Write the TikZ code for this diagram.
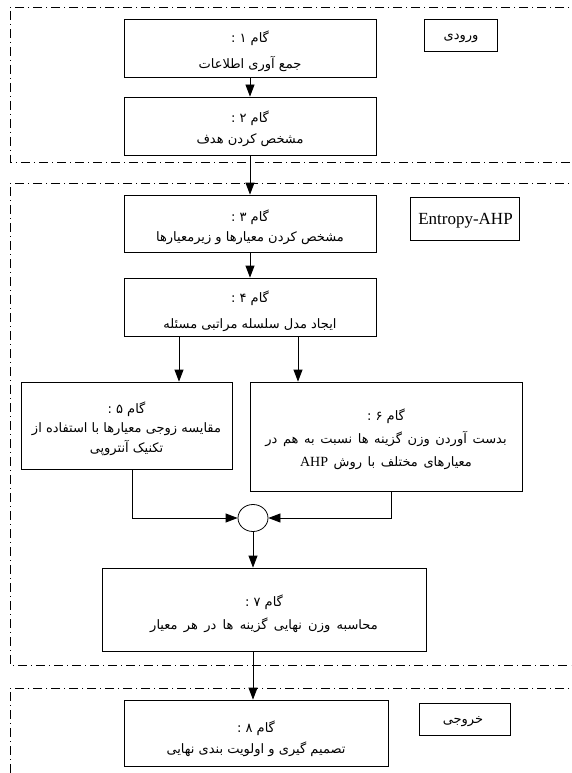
\documentclass[tikz,border=0pt]{standalone}
\usepackage{fontspec}
\usetikzlibrary{arrows.meta,shapes.geometric}
\TeXXeTstate=1
\newfontfamily\arfont[Script=Arabic]{DejaVu Sans}
\newfontfamily\latfont{Liberation Serif}
\begin{document}
\begin{tikzpicture}[x=1pt,y=-1pt,
  box/.style={draw,line width=0.8pt,inner sep=0pt},
  txt/.style={align=center,inner sep=0pt,font=\arfont\fontsize{13}{#1}\selectfont},
  frame/.style={line width=0.7pt,dash pattern=on 9pt off 4pt on 1pt off 4pt},
  arr/.style={line width=0.8pt,-{Triangle[length=12pt,width=9pt]}},
  ln/.style={line width=0.8pt}]
\useasboundingbox (0,0) rectangle (571,773);
\clip (0,0) rectangle (571,773);
% frames
\draw[frame] (600,7) -- (10,7) -- (10,162) -- (600,162);
\draw[frame] (600,183) -- (10,183) -- (10,665) -- (600,665);
\draw[frame] (600,688) -- (10,688) -- (10,800);
% boxes
\node[box,minimum width=252pt,minimum height=58pt] (b1) at (250,48) {};
\node[txt=26pt] (b1t) at (250,51) {\beginR گام ۱ :\endR\\\beginR جمع آوری اطلاعات\endR};
\node[box,minimum width=252pt,minimum height=58pt] (b2) at (250,126) {};
\node[txt=21pt] (b2t) at (250,128.5) {\beginR گام ۲ :\endR\\\beginR مشخص کردن هدف\endR};
\node[box,minimum width=252pt,minimum height=57pt] (b3) at (250,223.5) {};
\node[txt=20pt] (b3t) at (250,227.5) {\beginR گام ۳ :\endR\\\beginR مشخص کردن معیارها و زیرمعیارها\endR};
\node[box,minimum width=252pt,minimum height=58pt] (b4) at (250,307) {};
\node[txt=26pt] (b4t) at (250,311) {\beginR گام ۴ :\endR\\\beginR ایجاد مدل سلسله مراتبی مسئله\endR};
\node[box,minimum width=211pt,minimum height=87pt] (b5) at (126.5,425.5) {};
\node[txt=19.5pt] (b5t) at (126.5,428.5) {\beginR گام ۵ :\endR\\\beginR مقایسه زوجی معیارها با استفاده از\endR\\\beginR تکنیک آنتروپی\endR};
\node[box,minimum width=272pt,minimum height=109pt] (b6) at (386,436.5) {};
\node[txt=23pt] (b6t) at (386,439) {\beginR گام ۶ :\endR\\\spaceskip=5.6pt\beginR بدست آوردن وزن گزینه ها نسبت به هم در\endR\\\spaceskip=5.6pt\beginR معیارهای مختلف با روش \beginL{\latfont\fontsize{14}{14}\selectfont AHP}\endL\endR};
\node[draw,line width=0.8pt,ellipse,minimum width=30pt,minimum height=27pt,inner sep=0pt] (c) at (253,518) {};
\node[box,minimum width=324pt,minimum height=83pt] (b7) at (264,609.5) {};
\node[txt=23pt] (b7t) at (264,614) {\beginR گام ۷ :\endR\\\spaceskip=6.3pt\beginR محاسبه وزن نهایی گزینه ها در هر معیار\endR};
\node[box,minimum width=264pt,minimum height=66pt] (b8) at (256,733) {};
\node[txt=21pt] (b8t) at (256,738.5) {\beginR گام ۸ :\endR\\\beginR تصمیم گیری و اولویت بندی نهایی\endR};
% tags
\node[box,minimum width=73pt,minimum height=32pt] (tin) at (460.5,35) {};
\node[txt=14pt] (tint) at (461,38.5) {\beginR ورودی\endR};
\node[box,minimum width=109pt,minimum height=43pt] (tmid) at (464.5,218.5) {};
\node[inner sep=0pt,font=\latfont\fontsize{17}{18}\selectfont] (tmidt) at (465.5,221) {Entropy-AHP};
\node[box,minimum width=91pt,minimum height=32pt] (tout) at (464.5,719) {};
\node[txt=14pt] (toutt) at (463,722) {\beginR خروجی\endR};
% connectors
\draw[arr] (b1) -- (b2);
\draw[arr] (b2) -- (b3);
\draw[arr] (b3) -- (b4);
\draw[arr] (b4.south -| 179,0) -- (b5.north -| 179,0);
\draw[arr] (b4.south -| 298,0) -- (b6.north -| 298,0);
\draw[arr] (b5.south -| 132,0) |- (c.west);
\draw[arr] (b6.south -| 391,0) |- (c.east);
\draw[arr] (c.south) -- (b7.north -| c.south);
\draw[arr] (b7.south -| c.south) -- (b8.north -| c.south);
\end{tikzpicture}
\end{document}
